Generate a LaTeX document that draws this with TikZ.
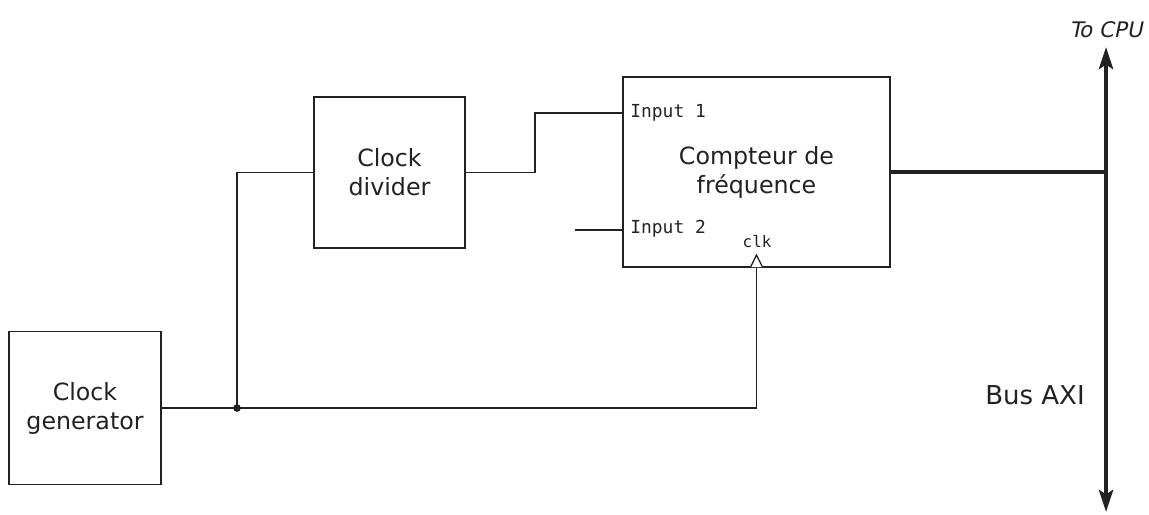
\documentclass[tikz,border=0pt]{standalone}
\usepackage{fontspec}
\setmainfont{DejaVu Sans}
\setmonofont{DejaVu Sans Mono}
\newfontfamily\obl{DejaVu Sans}[FakeSlant=0.2]
\usetikzlibrary{arrows.meta}
\definecolor{ink}{HTML}{222222}
\begin{document}
\begin{tikzpicture}[x=0.02cm,y=-0.02cm,
  blk/.style={draw=ink,line width=0.75pt,inner sep=0pt,align=center,text=ink,
    font=\fontsize{13.5}{16.5}\selectfont},
  wire/.style={draw=ink,line width=0.75pt},
  bus/.style={draw=ink,line width=2.8pt},
  port/.style={text=ink,inner sep=0pt,font=\ttfamily\fontsize{10.2}{12}\selectfont},
  bustip/.tip={Stealth[length=12.5pt,width=8pt,inset=2.5pt]}]
\useasboundingbox (0,0) rectangle (1149,514);
\node[blk,minimum width=3.04cm,minimum height=3.06cm] (gen) at (85,408) {Clock\\generator};
\node[blk,minimum width=3.02cm,minimum height=3.02cm] (div) at (389.5,172.5) {Clock\\divider};
\node[blk,minimum width=5.34cm,minimum height=3.8cm] (cnt) at (756.5,172) {Compteur de\\fréquence};
\node[port,anchor=west] (i1) at (630,113) {Input 1};
\node[port,anchor=west] (i2) at (630,229) {Input 2};
\node[port,font=\ttfamily\fontsize{9}{10}\selectfont] (clk) at (757,242) {clk};
\coordinate (j) at (237,408);
\coordinate (ck) at (756.5,267);
\coordinate (d1) at (535,172.5);
\coordinate (in1) at (623,113);
\coordinate (in2s) at (575,230);
\coordinate (bt) at (1106,47);
\coordinate (bb) at (1106,512);
% clock generator output
\draw[wire] (gen.east |- j) -- (j) -- (j -| ck) -- (ck);
\fill[ink] (j) circle (2.2pt);
\draw[wire] (j) |- (div.west);
\draw[wire] (div.east) -- (d1) |- (in1);
\draw[wire] (in2s) -- (in2s -| cnt.west);
% clk triangle
\draw[wire,fill=white] (750.5,267) -- (756.5,255) -- (762.5,267);
% bus
\draw[bus,bustip-bustip] (bt) -- (bb);
\draw[draw=ink,line width=2.4pt] (cnt.east) -- (cnt.east -| bt);
\node[text=ink,font=\obl\fontsize{12.2}{14}\selectfont] (cpu) at (1106,30) {To CPU};
\node[text=ink,font=\fontsize{14.8}{17}\selectfont] (axi) at (1035,395) {Bus AXI};
\end{tikzpicture}
\end{document}
